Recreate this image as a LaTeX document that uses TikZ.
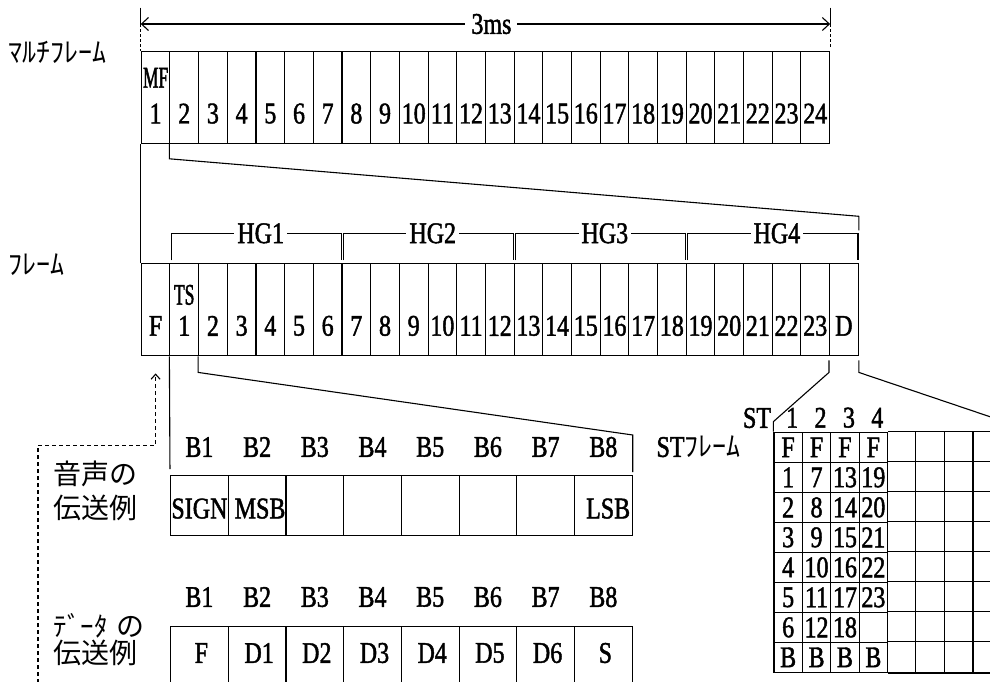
\documentclass[tikz,border=0pt]{standalone}
\usepackage{fontspec}
\setmainfont{Liberation Serif}[FakeStretch=0.8, FakeBold=1.5]
\newfontfamily\narrowfont{Liberation Serif}[FakeStretch=0.58, FakeBold=1.5]
\newfontfamily\cjk{Noto Sans CJK JP}
\usetikzlibrary{arrows.meta}
\newcommand\numfont{\fontsize{30pt}{30pt}\selectfont}
\newcommand\kanafont{\cjk\fontsize{28pt}{28pt}\selectfont}
\newcommand\tallfont{\narrowfont\fontsize{30pt}{30pt}\selectfont}

\tikzset{
  cell/.style={draw, inner sep=0pt, minimum width=28.68pt, minimum height=92pt, anchor=north west},
  bcell/.style={cell, minimum width=57.7pt, minimum height=60pt},
  stcell/.style={cell, font=\numfont, minimum width=28.4pt, minimum height=30pt, line width=1.3pt},
  num/.style={inner sep=0pt, font=\numfont},
  kana/.style={inner sep=0pt, font=\kanafont, anchor=west},
}

\begin{document}
\begin{tikzpicture}[>={Straight Barb[length=7pt,width=13pt]}, x=1pt, y=-1pt, line width=1.1pt]
\useasboundingbox (0,0) rectangle (990,681);
\clip (0,0) rectangle (990,681);

% 1. マルチフレーム (24 slots)
\node[kana] (lmf) at (8,52) {ﾏﾙﾁﾌﾚｰﾑ};
\foreach \i in {1,...,24} {
  \node[cell] (mf\i) at ({140.7+(\i-1)*28.68},50.7) {};
  \node[num] (mfn\i) at ([yshift=-16.3pt]mf\i.center) {\i};
}
\node[inner sep=0pt, font=\tallfont] (mfl) at ([yshift=19.5pt]mf1.center) {MF};

% 3ms
\draw[<->] ([yshift=26.7pt]mf1.north west) -- node[num, fill=white, inner xsep=6pt, xshift=6pt] (ms) {3ms} ([yshift=26.7pt]mf24.north east);
\draw[line width=0.6pt] ([yshift=43pt]mf1.north west) -- ([yshift=26.7pt]mf1.north west);
\draw[line width=0.6pt, densely dashed] ([yshift=26.7pt]mf1.north west) -- (mf1.north west);
\draw[line width=0.6pt] ([yshift=43pt]mf24.north east) -- ([yshift=26.7pt]mf24.north east);
\draw[line width=0.6pt, densely dashed] ([yshift=26.7pt]mf24.north east) -- ([yshift=3pt]mf24.north east);

% 2. フレーム (F, 1..23, D)
\node[kana] (lfr) at (8,265) {ﾌﾚｰﾑ};
\foreach \i in {0,...,24}
  \node[cell] (fr\i) at ({140.7+\i*28.68},263.3) {};
\node[num] (frf) at ([yshift=-16pt]fr0.center) {F};
\foreach \i in {1,...,23}
  \node[num] (frn\i) at ([yshift=-16pt]fr\i.center) {\i};
\node[num] (frd) at ([yshift=-16pt]fr24.center) {D};
\node[inner sep=0pt, font=\tallfont] (ts) at ([yshift=15pt]fr1.center) {TS};

% HG brackets
\foreach \g/\a/\b in {1/1/6,2/7/12,3/13/18,4/19/24}
  \draw ([xshift=2.2pt,yshift=3pt]fr\a.north west) -- ++(0,-27) -| node[num, pos=0.25, fill=white, inner xsep=3pt, xshift=4pt] (hg\g) {HG\g} ([xshift=-0.8pt,yshift=3pt]fr\b.north east);

% multiframe -> frame
\draw (mf1.south west) -- (fr0.north west);
\draw (mf2.south west) -- ++(0,15) -- ([yshift=47pt]fr24.north east) -- ([yshift=33pt]fr24.north east);

% 3. 音声の伝送例
\node[kana] (lv1) at (53,474) {音声の};
\node[kana] (lv2) at (53,508) {伝送例};
\foreach \i in {1,...,8} {
  \node[bcell] (v\i) at ({170+(\i-1)*57.7},475) {};
  \node[num] (vb\i) at ([yshift=28pt]v\i.north) {B\i};
}
\node[num] (sign) at ([yshift=-3pt]v1.center) {SIGN};
\node[num] (msb) at ([xshift=3pt,yshift=-3pt]v2.center) {MSB};
\node[num, anchor=east] (lsb) at ([xshift=-2pt,yshift=-3pt]v8.east) {LSB};

% frame -> TS1 bits
\draw[shorten >=6pt] (fr1.south west) -- (v1.north west);
\draw[shorten >=3pt] (fr2.south west) -- ++(0,16) -- ([yshift=40pt]v8.north east) -- (v8.north east);

% 4. データの伝送例
\node[kana] (ld1) at (53,626) {{\fontsize{27pt}{27pt}\selectfont ﾃﾞｰﾀ}\,\,の};
\node[kana] (ld2) at (53,653) {伝送例};
\foreach \i/\t in {1/F,2/D1,3/D2,4/D3,5/D4,6/D5,7/D6,8/S} {
  \node[bcell, minimum height=64pt] (d\i) at ({170+(\i-1)*57.7},626) {};
  \node[num] (db\i) at ([yshift=29pt]d\i.north) {B\i};
  \node[num] (dt\i) at ([xshift=2pt,yshift=-27pt]d\i.north) {\t};
}

% dotted arrow up to F
\coordinate (dstart) at (38,690);
\draw[dash pattern=on 4pt off 3pt, -{Straight Barb[length=5pt,width=9pt]}] (dstart) |- ([yshift=-89pt]fr0.south) -- ([yshift=-17pt]fr0.south);

% 5. STフレーム
\node[anchor=west, inner sep=0pt, font=\numfont] (lst) at (656,447) {ST{\kanafont ﾌﾚｰﾑ}};
\foreach \c/\col in {1/{F,1,2,3,4,5,6,B},2/{F,7,8,9,10,11,12,B},3/{F,13,14,15,16,17,18,B},4/{F,19,20,21,22,23,{},B}}
  \foreach \t [count=\r] in \col
    \node[stcell] (st-\r-\c) at ({773.3+(\c-1)*28.4},{431.7+(\r-1)*30}) {\t};
\foreach \r in {1,...,8}
  \draw (st-\r-4.north east) -- ++(120,0);
\draw (st-8-4.south east) -- ++(120,0);
\foreach \k in {1,...,3}
  \draw ({886.9+\k*28.7},431.7) -- ++(0,240);
\node[num] (stl) at (757,418) {ST};
\foreach \c in {1,...,4}
  \node[num] (stc\c) at ([xshift=4pt,yshift=14pt]st-1-\c.north) {\c};

% D -> ST frame
\draw ([yshift=-4pt]fr24.south west) -- ++(0,12) -- ([yshift=10pt]st-1-1.north west) -- (st-1-1.north west);
\coordinate (stedge) at (1000,420.1);
\draw ([yshift=-4pt]fr24.south east) -- ++(0,12) -- (stedge);
\end{tikzpicture}
\end{document}
